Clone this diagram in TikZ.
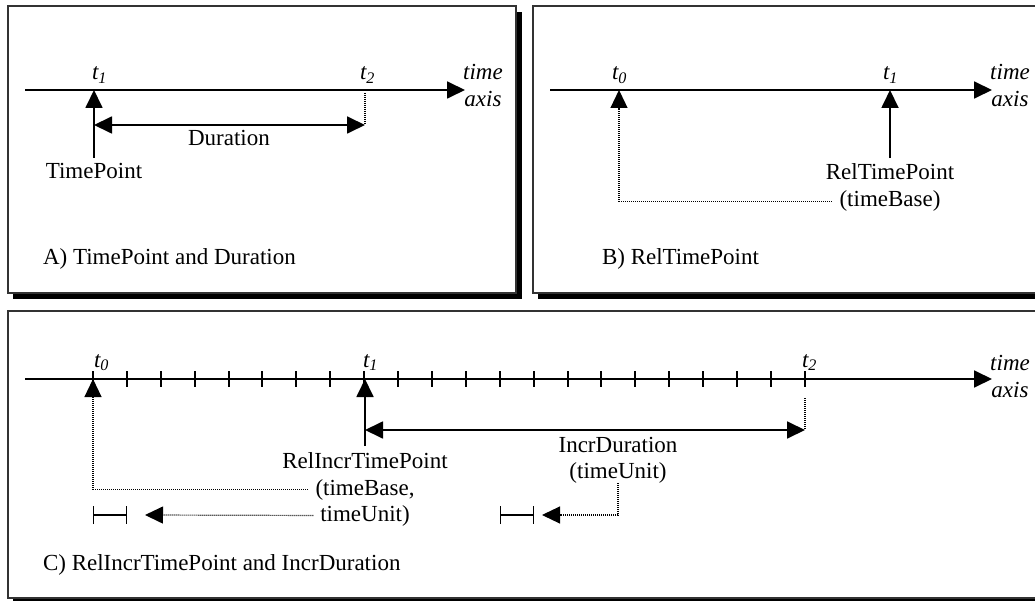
\documentclass[tikz,border=0pt]{standalone}
\usepackage{fontspec}
\setmainfont{Liberation Serif}
\usetikzlibrary{arrows.meta}

\begin{document}
\begin{tikzpicture}[x=1pt, y=-1pt,
  every node/.style={inner sep=0pt, outer sep=0pt, font=\fontsize{23}{26}\selectfont},
  lbl/.style={anchor=base},
  it/.style={anchor=base, font=\fontsize{23}{26}\selectfont\itshape},
  tlbl/.style={anchor=base west, font=\fontsize{23}{26}\selectfont\itshape},
  frame/.style={draw=black!80, line width=1.2pt, fill=white},
  shadowbox/.style={fill=black},
  head/.style={-{Triangle[length=18pt,width=17pt]}},
  axisline/.style={line width=1.8pt, head},
  marker/.style={line width=1.8pt, head},
  span/.style={line width=1.8pt, {Triangle[length=18pt,width=17pt]}-{Triangle[length=18pt,width=17pt]}},
  guide/.style={line width=1.2pt, dash pattern=on 1pt off 1pt},
  tickmark/.style={line width=2pt},
  unitbar/.style={line width=1.4pt, {Bar[width=18pt]}-{Bar[width=18pt]}},
]
\useasboundingbox (0,0) rectangle (1035,601);
\clip (0,0) rectangle (1035,601);

% ---------- panel frames with drop shadows ----------
\fill[shadowbox] (13,12) rectangle (522,299);
\draw[frame] (8,6) rectangle (516,293);
\fill[shadowbox] (538,12) rectangle (1046,299);
\draw[frame] (533,6) rectangle (1040,293);
\fill[shadowbox] (13,317) rectangle (1046,604);
\draw[frame] (8,311) rectangle (1040,598);

% ---------- A) TimePoint and Duration ----------
\coordinate (Astart) at (25,90);
\coordinate (Aend) at (465,90);
\coordinate (A1) at (94,90);
\coordinate (A2) at (365,90);
\coordinate (Aspan1) at (94,125);
\coordinate (Aspan2) at (365,125);
\draw[axisline] (Astart) -- (Aend);
\node[tlbl] (At1) at (92,80) {t\textsubscript{1}};
\node[tlbl] (At2) at (360,80) {t\textsubscript{2}};
\node[it] (Atime) at (483,80) {time};
\node[it] (Aaxis) at (483,107) {axis};
\node[lbl] (Atp) at (94,179) {TimePoint};
\draw[marker] ([yshift=6pt]Atp.north) -- (A1);
\draw[span] (Aspan1) -- (Aspan2);
\draw[guide] ([yshift=-3pt]A2) -- (Aspan2);
\node[lbl] (Adur) at (229,146) {Duration};
\node[anchor=base west] (Acap) at (43,265) {A) TimePoint and Duration};

% ---------- B) RelTimePoint ----------
\coordinate (Bstart) at (550,90);
\coordinate (Bend) at (992,90);
\coordinate (B0) at (619,90);
\coordinate (B1) at (890,90);
\draw[axisline] (Bstart) -- (Bend);
\node[tlbl] (Bt0) at (612,80) {t\textsubscript{0}};
\node[tlbl] (Bt1) at (883,80) {t\textsubscript{1}};
\node[it] (Btime) at (1010,80) {time};
\node[it] (Baxis) at (1010,107) {axis};
\node[lbl] (Brtp) at (890,180) {RelTimePoint};
\node[lbl] (Bbase) at (890,207) {(timeBase)};
\draw[marker] ([yshift=6pt]Brtp.north) -- (B1);
\draw[guide, head] ([xshift=-8pt]Bbase.west) -| (B0);
\node[anchor=base west] (Bcap) at (602,265) {B) RelTimePoint};

% ---------- C) RelIncrTimePoint and IncrDuration ----------
\coordinate (Cstart) at (25,379);
\coordinate (Cend) at (992,379);
\coordinate (C0) at (93,379);
\coordinate (C1) at (365,379);
\coordinate (C2) at (805,379);
\draw[axisline] (Cstart) -- (Cend);
\foreach \k in {0,...,21}
  \draw[tickmark] ({round(93+33.9*\k)},371) -- ({round(93+33.9*\k)},387);
\node[tlbl] (Ct0) at (94,367) {t\textsubscript{0}};
\node[tlbl] (Ct1) at (363,367) {t\textsubscript{1}};
\node[tlbl] (Ct2) at (802,367) {t\textsubscript{2}};
\node[it] (Ctime) at (1010,370) {time};
\node[it] (Caxis) at (1010,397) {axis};

% relative incremental time point
\node[lbl] (Crit) at (365,468) {RelIncrTimePoint};
\node[lbl] (Cbase) at (365,495) {(timeBase,};
\node[lbl] (Cunit) at (365,521) {timeUnit)};
\draw[marker] ([yshift=6pt]Crit.north) -- (C1);
\draw[guide, head] ([xshift=-8pt]Cbase.west) -| (C0);

% incremental duration
\coordinate (CSa) at (365,430);
\coordinate (CSb) at (805,430);
\draw[span] (CSa) -- (CSb);
\draw[guide] ([yshift=-19pt]C2) -- (CSb);
\node[lbl] (Cid) at (618,452) {IncrDuration};
\node[lbl] (Cunit2) at (618,478) {(timeUnit)};

% time unit bars
\coordinate (CLa) at (93,515);
\coordinate (CLb) at (127,515);
\coordinate (CLtip) at (145,515);
\coordinate (CRa) at (500,515);
\coordinate (CRb) at (534,515);
\coordinate (CRtip) at (542,515);
\draw[unitbar] (CLa) -- (CLb);
\draw[unitbar] (CRa) -- (CRb);
\draw[guide, head] ([xshift=-7pt]Cunit.west) -- (CLtip);
\draw[guide, head] (Cunit2.south) |- (CRtip);

\node[anchor=base west] (Ccap) at (43,570) {C) RelIncrTimePoint and IncrDuration};
\end{tikzpicture}
\end{document}
